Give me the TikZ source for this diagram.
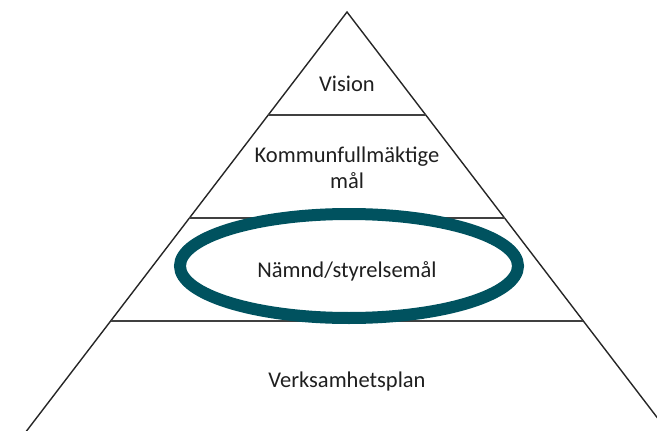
\documentclass[tikz,border=0pt]{standalone}
\usepackage{fontspec}
\setmainfont{Carlito}
\usetikzlibrary{calc,shapes.geometric}
\definecolor{petrol}{HTML}{00525F}
\tikzset{
  edgeline/.style = {draw=black!85, line width=1.4pt},
  tierline/.style = {draw=black!75, line width=1.8pt},
  tier/.style = {align=center, anchor=base, text=black!88,
    font=\fontsize{22.5}{26}\selectfont},
  ring/.style = {ellipse, draw=petrol, line width=12pt,
    minimum width=338pt, minimum height=104pt}
}

\begin{document}
\begin{tikzpicture}[x=1pt,y=-1pt]
\clip (0,0) rectangle (657,431);
\coordinate (top) at (347,12);
\coordinate (bl) at (12,450);
\coordinate (br) at (682,450);
% pyramid
\draw[edgeline] (bl) -- (top) -- (br);
\foreach \t in {0.2352,0.4703,0.7055}
  \draw[tierline] ($(top)!\t!(bl)$) -- ($(top)!\t!(br)$);
% levels
\node[tier] (vision) at (347,91) {Vision};
\node[tier] (kfmal) at (347,188) {Kommunfullmäktige\\mål};
\node[ring] (mark) at (349,266) {};
\node[tier] (namnd) at (347,277) {Nämnd/styrelsemål};
\node[tier] (vplan) at (347,387) {Verksamhetsplan};
\end{tikzpicture}
\end{document}
